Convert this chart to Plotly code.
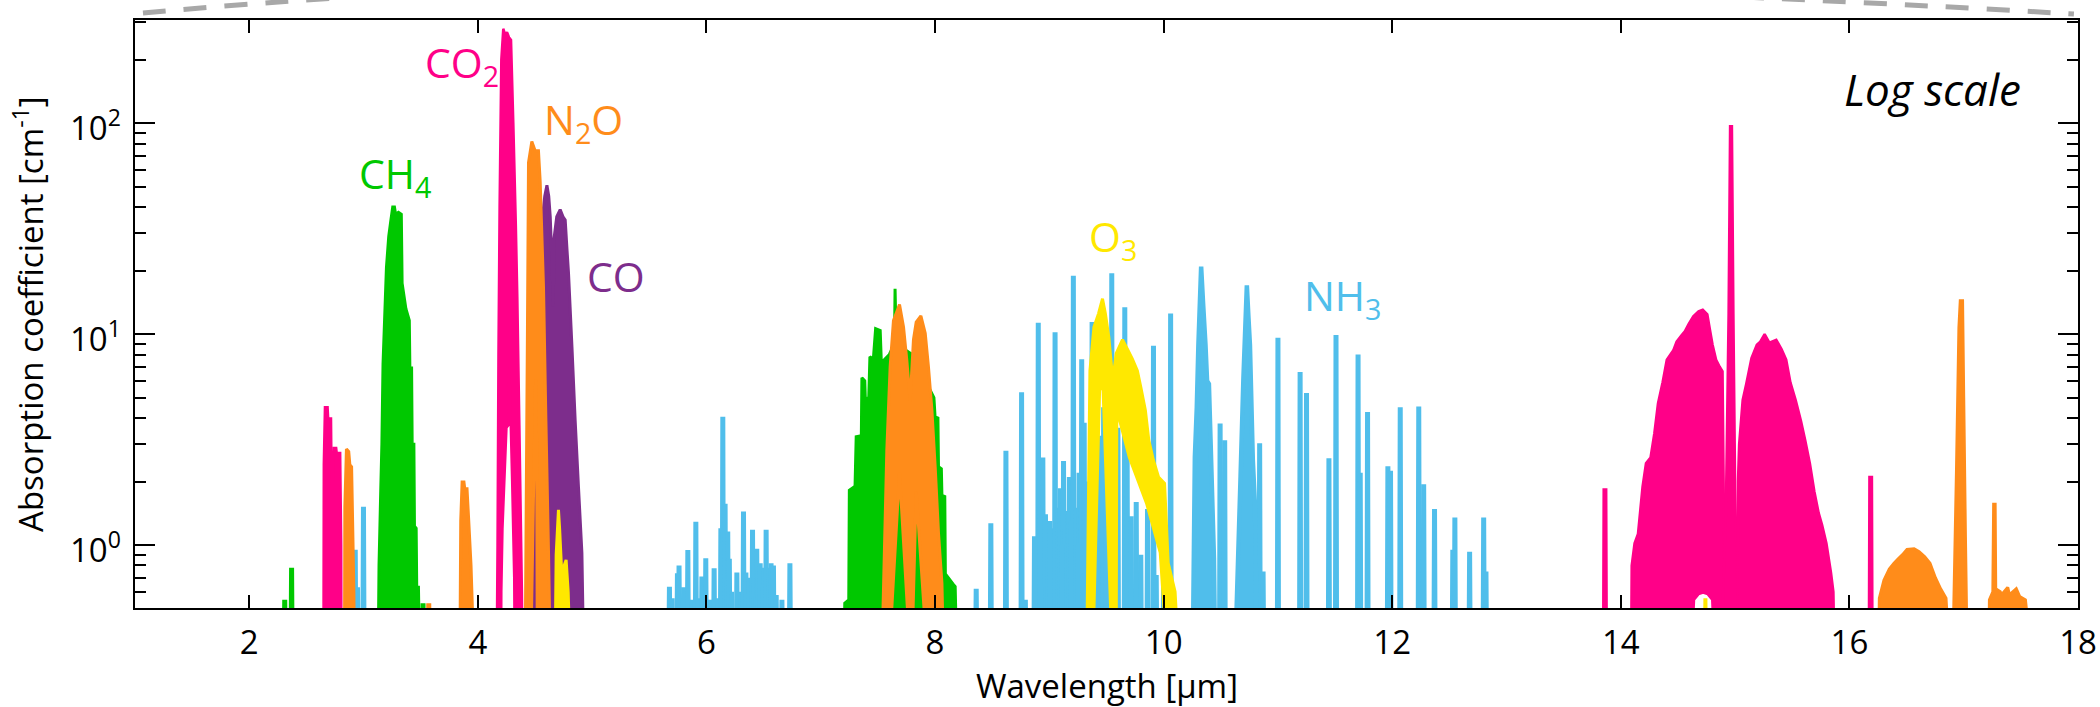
import math
import plotly.graph_objects as go

# ---------------- data ----------------
B = 0.3      # baseline value (below visible log range)
HW = 0.005   # half width of an isolated narrow line [µm]

# colours per gas
C_CO2 = "#FF0088"
C_N2O = "#FF8C1A"
C_CH4 = "#00C800"
C_CO = "#7D2D8C"
C_O3 = "#FFE800"
C_NH3 = "#50BEEB"

# ---- NH3 : isolated lines (wavelength, absorption)
nh3_line_x = [2.927, 2.947, 2.999,
              5.676, 5.70, 5.746, 5.76, 5.80, 5.837, 5.87, 5.907, 5.93, 5.96, 5.994, 6.03, 6.067,
              6.10, 6.126, 6.143, 6.163, 6.186, 6.20, 6.22, 6.266, 6.30, 6.324, 6.345, 6.37, 6.403,
              6.42, 6.44, 6.455, 6.47, 6.50, 6.522, 6.545, 6.565, 6.586, 6.61, 6.66, 6.73,
              8.36, 8.488, 8.62, 8.757, 8.79, 8.903, 8.943, 8.966, 8.99, 9.02, 9.05, 9.075, 9.097,
              9.124, 9.14, 9.16, 9.175, 9.21, 9.235, 9.26, 9.283, 9.305, 9.33, 9.35, 9.374, 9.40,
              9.44, 9.475, 9.50, 9.546, 9.58, 9.60, 9.66, 9.68, 9.716, 9.76, 9.80, 9.859, 9.911,
              9.935, 10.00, 10.061, 10.494, 10.534, 10.84, 10.87, 11.0, 11.194, 11.25, 11.446,
              11.508, 11.701, 11.72, 11.784, 11.962, 11.985, 12.07, 12.232, 12.275, 12.37, 12.53,
              12.548, 12.677, 12.80, 12.82,
              8.87, 8.92, 9.005, 9.11, 9.19, 9.25, 9.315, 9.36, 9.42]
nh3_line_y = [0.95, 0.63, 1.52,
              0.635, 0.56, 0.734, 0.80, 0.63, 0.947, 0.55, 1.29, 0.56, 0.71, 0.865, 0.55, 0.775,
              0.56, 1.2, 4.05, 1.57, 1.16, 0.86, 0.6, 0.74, 0.6, 1.44, 0.74, 0.7, 1.18,
              0.86, 0.96, 0.78, 0.82, 0.78, 1.18, 0.78, 0.82, 0.80, 0.58, 0.55, 0.82,
              0.62, 1.27, 2.8, 5.3, 0.55, 11.3, 2.6, 1.4, 1.0, 1.2, 10.2, 1.5, 1.86,
              2.5, 1.2, 1.45, 2.1, 18.9, 1.5, 2.2, 7.6, 3.8, 1.6, 1.1, 11.4, 2.2,
              3.3, 4.5, 2.5, 19.4, 2.8, 3.6, 13.4, 4.1, 1.37, 1.6, 0.9, 1.48, 8.8,
              0.72, 0.7, 12.5, 3.77, 3.14, 3.04, 0.75, 9.6, 6.6, 5.25, 2.58,
              9.9, 8.0, 2.2, 4.27, 2.36, 2.25, 4.5, 4.54, 1.94, 1.48, 0.95,
              1.35, 0.93, 1.35, 0.75,
              1.1, 1.5, 1.3, 1.0, 1.3, 1.0, 2.0, 1.4, 1.2]
# ---- NH3 : broad features (outline vertices)
nh3_b1_x = [10.255, 10.273, 10.29, 10.304, 10.328, 10.345, 10.366, 10.38, 10.396, 10.41, 10.44, 10.45]
nh3_b1_y = [B, 2.6, 4.5, 8.9, 20.9, 14, 8.9, 6.0, 5.8, 3.2, 0.87, B]
nh3_b2_x = [10.626, 10.673, 10.698, 10.728, 10.742, 10.755, 10.78, 10.80, 10.815]
nh3_b2_y = [B, 2.12, 6.2, 17.0, 12, 8.9, 2.54, 1.5, B]

# ---- CH4
ch4_line_x = [2.31, 2.37, 3.52]
ch4_line_y = [0.55, 0.78, 0.53]
ch4_b1_x = [3.128, 3.135, 3.15, 3.16, 3.17, 3.20, 3.22, 3.24, 3.255, 3.27, 3.28, 3.305, 3.33, 3.337,
            3.37, 3.40, 3.405, 3.42, 3.425, 3.44, 3.445, 3.46, 3.465, 3.48, 3.49]
ch4_b1_y = [B, 0.8, 1.8, 3.0, 7.2, 20.7, 29, 35, 40, 40, 37, 37.8, 37, 17.4,
            13.2, 11.6, 6.9, 6.9, 3.0, 3.0, 1.23, 1.2, 0.63, 0.63, B]
ch4_b2_x = [7.205, 7.21, 7.245, 7.25, 7.30, 7.31, 7.355, 7.36, 7.385, 7.39, 7.42, 7.43, 7.46, 7.48,
            7.52, 7.53, 7.60, 7.645, 7.65, 7.66, 7.80, 7.99, 8.0, 8.025, 8.03, 8.055, 8.06, 8.085,
            8.09, 8.16, 8.176, 8.19]
ch4_b2_y = [B, 0.53, 0.55, 1.82, 1.9, 3.26, 3.3, 6.2, 6.0, 4.9, 5.0, 7.8, 7.6, 10.6,
            10.4, 7.3, 8.0, 9.0, 16.4, 9.0, 8.0, 5.0, 4.05, 4.0, 2.35, 2.3, 1.72, 1.7,
            0.73, 0.65, 0.635, B]

# ---- CO
co_b1_x = [4.455, 4.46, 4.50, 4.55, 4.585, 4.604, 4.62, 4.633, 4.648, 4.66, 4.665, 4.69, 4.72,
           4.745, 4.764, 4.78, 4.793, 4.823, 4.851, 4.88, 4.91, 4.925]
co_b1_y = [B, 2.2, 10, 30, 45, 50.7, 45, 36, 22, 13.5, 28, 36, 38.9,
           36, 34.7, 25, 19.4, 8.7, 3.9, 1.89, 0.92, B]

# ---- O3
o3_line_x = [14.74]
o3_line_y = [0.56]
o3_b1_x = [4.676, 4.685, 4.705, 4.715, 4.734, 4.755, 4.772, 4.79, 4.807]
o3_b1_y = [B, 0.9, 1.47, 1.2, 0.73, 0.8, 0.85, 0.6, B]
o3_b2_x = [9.327, 9.345, 9.355, 9.39, 9.43, 9.465, 9.49, 9.52, 9.555, 9.585, 9.64, 9.68, 9.725,
           9.77, 9.80, 9.84, 9.87, 9.91, 9.955, 10.008, 10.04, 10.10, 10.13,
           10.03, 9.97, 9.85, 9.70, 9.62, 9.59, 9.585, 9.55, 9.47, 9.44, 9.38]
o3_b2_y = [B, 2.27, 6.7, 10.8, 12.5, 14.7, 12.5, 9.7, 6.05, 8.1, 9.4, 8.55, 7.65,
           6.7, 5.6, 4.36, 3.14, 2.53, 2.1, 1.96, 0.82, 0.6, B,
           B, 0.92, 1.58, 2.6, 3.8, 4.36, B, B, 5.5, 5.5, B]

# ---- N2O
n2o_b1_x = [2.833, 2.836, 2.85, 2.87, 2.88, 2.895, 2.905, 2.915, 2.92]
n2o_b1_y = [B, 1.5, 2.85, 2.77, 2.4, 2.35, 1.2, 0.6, B]
n2o_b2_x = [3.843, 3.85, 3.862, 3.878, 3.885, 3.905, 3.92, 3.94, 3.965]
n2o_b2_y = [B, 1.3, 1.99, 1.99, 1.85, 1.85, 1.3, 0.8, B]
n2o_b3_x = [4.414, 4.434, 4.443, 4.472, 4.501, 4.53, 4.545, 4.574, 4.595, 4.618, 4.633,
            4.52, 4.515, 4.51, 4.505, 4.49, 4.463]
n2o_b3_y = [B, 11.1, 65, 81.7, 74, 74, 53, 16.7, 3.9, 0.92, B,
            B, 2.2, 6, 6, 2.2, B]
n2o_b4_x = [7.535, 7.578, 7.607, 7.636, 7.689, 7.724, 7.753, 7.782, 7.811, 7.835, 7.876, 7.914,
            7.942, 7.972, 8.001, 8.03, 8.06, 8.074,
            7.931, 7.835, 7.797, 7.782, 7.689, 7.598]
n2o_b4_y = [B, 2.82, 7.0, 11.6, 13.8, 10.8, 7.5, 4.8, 9.4, 11.4, 12.2, 10.1,
            7.0, 4.4, 2.35, 1.14, 0.66, B,
            B, 1.8, B, B, 2.2, B]
n2o_b5_x = [16.255, 16.262, 16.302, 16.349, 16.39, 16.427, 16.465, 16.504, 16.566, 16.61, 16.659,
            16.705, 16.752, 16.798, 16.845, 16.875]
n2o_b5_y = [B, 0.56, 0.68, 0.77, 0.82, 0.86, 0.9, 0.954, 0.96, 0.93, 0.88,
            0.82, 0.70, 0.62, 0.56, B]
n2o_b6_x = [16.905, 16.937, 16.958, 16.97, 16.99, 17.0, 17.015, 17.03]
n2o_b6_y = [B, 2.3, 10.7, 14.4, 14.4, 5.0, 1.1, B]
n2o_b7_x = [17.22, 17.225, 17.255, 17.262, 17.275, 17.28, 17.32, 17.33, 17.385, 17.40, 17.46,
            17.49, 17.54, 17.59]
n2o_b7_y = [B, 0.55, 0.6, 1.56, 1.56, 0.62, 0.60, 0.58, 0.63, 0.58, 0.62,
            0.57, 0.55, B]
n2o_line_x = [3.57]
n2o_line_y = [0.53]

# ---- CO2
co2_line_x = [13.861, 16.186]
co2_line_y = [1.86, 2.13]
co2_b1_x = [2.649, 2.652, 2.662, 2.685, 2.69, 2.715, 2.72, 2.735, 2.74, 2.76, 2.765, 2.795, 2.804, 2.806]
co2_b1_y = [B, 2.4, 4.5, 4.5, 3.98, 3.98, 1.97, 1.97, 2.88, 2.88, 2.73, 2.73, 1.0, B]
co2_b2_x = [4.165, 4.172, 4.18, 4.19, 4.205, 4.222, 4.24, 4.255, 4.272, 4.29, 4.31, 4.332, 4.345,
            4.363, 4.385, 4.39,
            4.322, 4.318, 4.30, 4.275, 4.268, 4.25, 4.215, 4.205, 4.203]
co2_b2_y = [B, 1.0, 8, 40, 200, 280, 262, 270, 255, 248, 100, 33, 15,
            3.7, 0.6, B,
            B, 0.7, 2.0, 7.0, 3.7, 3.6, 1.2, 0.6, B]
co2_b3_x = [14.09, 14.095, 14.12, 14.15, 14.19, 14.22, 14.26, 14.293, 14.325, 14.365, 14.402, 14.458,
            14.488, 14.531, 14.56, 14.593, 14.634, 14.68, 14.717, 14.757, 14.78, 14.803, 14.834,
            14.865, 14.89, 14.903, 14.90, 14.895,
            14.82, 14.80, 14.76, 14.72, 14.68, 14.64, 14.62]
co2_b3_y = [B, 0.8, 1.02, 1.13, 1.89, 2.44, 2.6, 3.38, 4.69, 5.9, 7.56, 8.35,
            9.2, 9.87, 10.3, 11.16, 12.15, 12.8, 13.05, 12.4, 10.5, 8.9, 7.56,
            7.0, 6.65, 1.29, 0.65, B,
            B, 0.55, 0.585, 0.595, 0.585, 0.55, B]
co2_b4_x = [14.885, 14.896, 14.918, 14.943, 14.956, 14.972, 14.985, 15.0, 15.019, 15.025]
co2_b4_y = [B, 0.62, 1.34, 12.5, 96.7, 96.7, 12.5, 1.89, 0.6, B]
co2_b5_x = [15.02, 15.025, 15.035, 15.066, 15.097, 15.143, 15.19, 15.22, 15.258, 15.30, 15.36, 15.406,
            15.447, 15.484, 15.53, 15.577, 15.614, 15.654, 15.694, 15.731, 15.762, 15.799,
            15.839, 15.86, 15.87]
co2_b5_y = [B, 2.0, 3.0, 4.87, 5.8, 7.7, 8.9, 9.2, 10.0, 9.1, 9.4, 8.5,
            7.56, 5.9, 4.87, 3.86, 3.13, 2.44, 1.79, 1.42, 1.24, 1.02,
            0.74, 0.6, B]

# axis ticks
x_tick_vals = [2, 4, 6, 8, 10, 12, 14, 16, 18]
y_tick_vals = [1, 10, 100]
y_tick_text = ["10<sup>0</sup>", "10<sup>1</sup>", "10<sup>2</sup>"]
y_minor_vals = [0.6, 0.7, 0.8, 0.9, 2, 3, 4, 5, 6, 7, 8, 9, 20, 30, 40, 50, 60, 70, 80, 90, 200, 300]
x_range = [1, 18]
y_range = [0.503, 308]

# labels: text, left x [µm], vertical centre value, colour
labels = [
    ("CO<sub>2</sub>", 3.52, 190, C_CO2),
    ("N<sub>2</sub>O", 4.56, 102, C_N2O),
    ("CH<sub>4</sub>", 2.944, 56.6, C_CH4),
    ("CO", 4.939, 18.8, C_CO),
    ("O<sub>3</sub>", 9.33, 28.5, C_O3),
    ("NH<sub>3</sub>", 11.21, 14.9, C_NH3),
]


# ---------------- helpers ----------------
def lines_xy(xs, ys):
    X, Y = [], []
    for x, y in zip(xs, ys):
        X += [x - HW, x, x + HW, None]
        Y += [B, y, B, None]
    return X, Y


def bands_xy(*pairs):
    X, Y = [], []
    for xs, ys in pairs:
        X += list(xs) + [None]
        Y += list(ys) + [None]
    return X, Y


fig = go.Figure()


def add_bands(pairs, color, width=3):
    X, Y = bands_xy(*pairs)
    fig.add_trace(go.Scatter(x=X, y=Y, mode="lines", fill="toself", fillcolor=color,
                             line=dict(color=color, width=width, simplify=False),
                             hoverinfo="skip", showlegend=False))


def add_lines(xs, ys, color, width=5):
    X, Y = lines_xy(xs, ys)
    fig.add_trace(go.Scatter(x=X, y=Y, mode="lines", fill="toself", fillcolor=color,
                             line=dict(color=color, width=width, simplify=False),
                             hoverinfo="skip", showlegend=False))


# draw order: NH3, CH4, CO, O3, N2O, CO2
add_lines(nh3_line_x, nh3_line_y, C_NH3)
add_bands([(nh3_b1_x, nh3_b1_y), (nh3_b2_x, nh3_b2_y)], C_NH3, 4.5)
add_lines(ch4_line_x, ch4_line_y, C_CH4)
add_bands([(ch4_b1_x, ch4_b1_y), (ch4_b2_x, ch4_b2_y)], C_CH4)
add_bands([(co_b1_x, co_b1_y)], C_CO)
add_lines(o3_line_x, o3_line_y, C_O3, 4)
add_bands([(o3_b1_x, o3_b1_y), (o3_b2_x, o3_b2_y)], C_O3)
add_lines(n2o_line_x, n2o_line_y, C_N2O)
add_bands([(n2o_b1_x, n2o_b1_y), (n2o_b2_x, n2o_b2_y), (n2o_b3_x, n2o_b3_y),
           (n2o_b4_x, n2o_b4_y), (n2o_b5_x, n2o_b5_y), (n2o_b6_x, n2o_b6_y),
           (n2o_b7_x, n2o_b7_y)], C_N2O)
add_lines(co2_line_x, co2_line_y, C_CO2)
add_bands([(co2_b1_x, co2_b1_y), (co2_b2_x, co2_b2_y), (co2_b3_x, co2_b3_y),
           (co2_b4_x, co2_b4_y), (co2_b5_x, co2_b5_y)], C_CO2, 2.5)

FONT = "Open Sans"

for text, lx, ly, col in labels:
    fig.add_annotation(x=lx, y=math.log10(ly), xref="x", yref="y", text=text, showarrow=False,
                       xanchor="left", yanchor="middle",
                       font=dict(family=FONT, size=41, color=col))

fig.add_annotation(x=17.52, y=math.log10(144.6), xref="x", yref="y", text="<i>Log scale</i>",
                   showarrow=False, xanchor="right", yanchor="middle",
                   font=dict(family=FONT, size=44, color="black"))

# y tick labels (placed just left of the frame)
for val, txt in zip(y_tick_vals, y_tick_text):
    fig.add_annotation(x=0, y=math.log10(val), xref="paper", yref="y", text=txt,
                       showarrow=False, xanchor="right", yanchor="middle", xshift=-12, yshift=-2,
                       font=dict(family=FONT, size=33, color="black"))

# axis titles
fig.add_annotation(x=0.5, y=-0.131, xref="paper", yref="paper", text="Wavelength [µm]",
                   showarrow=False, xanchor="center", yanchor="middle",
                   font=dict(family=FONT, size=33, color="black"))
fig.add_annotation(x=-0.0551, y=0.5, xref="paper", yref="paper",
                   text="Absorption coefficient [cm<sup>-1</sup>]", textangle=-90,
                   showarrow=False, xanchor="center", yanchor="middle",
                   font=dict(family=FONT, size=33, color="black"))

# decorative dashed arc above the frame
fig.add_shape(type="path", xref="paper", yref="paper",
              path="M 0.0041,1.0119 C 0.3129,1.1054 0.6891,1.0697 0.9979,1.0102",
              line=dict(color="#A8A8A8", width=5, dash="23px,18px"), layer="above")

fig.update_layout(
    width=2100, height=707,
    margin=dict(l=135, r=22, t=20, b=99, autoexpand=False),
    plot_bgcolor="white", paper_bgcolor="white",
    showlegend=False,
    font=dict(family=FONT, size=33, color="black"),
)
fig.update_xaxes(
    range=x_range, tickmode="array", tickvals=x_tick_vals,
    ticks="inside", ticklen=13, tickwidth=2, tickcolor="black",
    showline=True, linecolor="black", linewidth=2, mirror="ticks",
    showgrid=False, zeroline=False, automargin=False,
    tickfont=dict(family=FONT, size=33, color="black"),
    ticklabelstandoff=4,
)
fig.update_yaxes(
    type="log", range=[math.log10(y_range[0]), math.log10(y_range[1])],
    tickmode="array", tickvals=y_tick_vals, showticklabels=False,
    ticks="inside", ticklen=20, tickwidth=2, tickcolor="black",
    minor=dict(tickmode="array", tickvals=y_minor_vals, ticks="inside", ticklen=11,
               tickwidth=2, tickcolor="black", showgrid=False),
    showline=True, linecolor="black", linewidth=2, mirror="ticks",
    showgrid=False, zeroline=False, automargin=False,
)

# remove the default 8 px page margin so the 2100x707 figure fills the window exactly
fig.write_html("out.html", config={"displayModeBar": False},
               post_script="document.body.style.margin='0px';document.body.style.overflow='hidden';")
